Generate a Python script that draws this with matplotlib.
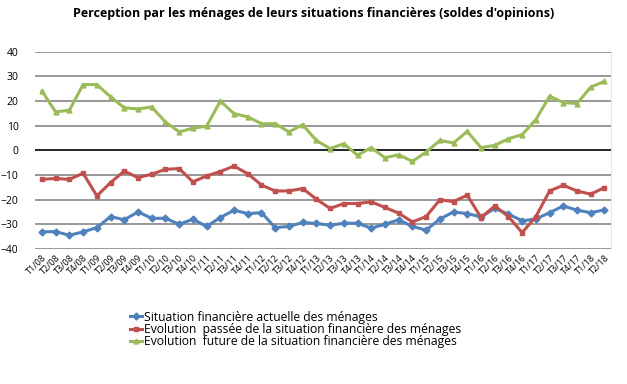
import matplotlib.pyplot as plt

# quarters T1/08 .. T2/18
quarters = ['T%d/%02d' % (q, y) for y in range(8, 19) for q in range(1, 5)][:42]

actuelle = [-33.1, -33.0, -34.5, -33.1, -31.4, -26.9, -28.2, -25.0, -27.6, -27.6,
            -30.0, -28.0, -30.9, -27.3, -24.3, -25.7, -25.3, -31.4, -30.9, -29.3,
            -29.7, -30.4, -29.6, -29.6, -31.6, -30.0, -28.2, -30.9, -32.4, -27.9,
            -25.0, -25.7, -27.0, -23.6, -25.9, -28.6, -27.9, -25.3, -22.6, -24.3,
            -25.3, -24.2]
passee = [-11.8, -11.4, -11.8, -9.3, -18.5, -13.1, -8.4, -11.1, -9.7, -7.7,
          -7.4, -12.8, -10.4, -8.6, -6.4, -9.5, -14.1, -16.5, -16.5, -15.5,
          -19.8, -23.6, -21.6, -21.6, -20.9, -23.2, -25.5, -29.1, -26.9, -20.1,
          -20.8, -18.2, -27.3, -22.6, -26.9, -33.4, -26.9, -16.5, -14.2, -16.5,
          -17.8, -15.1]
future = [24.0, 15.6, 16.3, 26.7, 26.7, 21.7, 17.3, 16.8, 17.6, 11.5,
          7.5, 9.0, 9.8, 20.0, 14.9, 13.6, 10.8, 10.8, 7.5, 10.4,
          4.0, 0.7, 2.7, -2.0, 1.1, -3.0, -1.8, -4.5, -0.7, 4.0,
          3.0, 7.7, 1.1, 2.0, 4.7, 6.4, 12.5, 22.0, 19.4, 19.0,
          25.7, 28.0]

plt.rcParams['font.family'] = ['Open Sans', 'DejaVu Sans']

fig = plt.figure(figsize=(6.27, 3.84), dpi=100)
ax = fig.add_axes([0.056, 0.352, 0.919, 0.513])

x = list(range(len(quarters)))
ax.plot(x, actuelle, color='#4f81bd', lw=2.2, marker='D', ms=3.5,
        label='Situation financière actuelle des ménages')
ax.plot(x, passee, color='#c0504d', lw=2.2, marker='s', ms=3.5,
        label='Evolution  passée de la situation financière des ménages')
ax.plot(x, future, color='#9bbb59', lw=2.2, marker='^', ms=3.5,
        label='Evolution  future de la situation financière des ménages')

ax.set_xlim(-0.5, len(quarters) - 0.5)
ax.set_ylim(-40, 40)
ax.set_yticks(range(-40, 41, 10))
for v in range(-40, 41, 10):
    ax.axhline(v, color='black' if v == 0 else '#868686', lw=1.2, zorder=0)

ax.set_xticks(x)
ax.set_xticklabels(quarters, rotation=45, ha='right', rotation_mode='anchor', fontsize=6.5)
ax.tick_params(axis='both', length=0)
ax.tick_params(axis='y', labelsize=7.5, pad=12)
ax.tick_params(axis='x', pad=3)
for s in ['top', 'left', 'bottom']:
    ax.spines[s].set_visible(False)
ax.spines['right'].set_color('#e6e6e6')

fig.suptitle("Perception par les ménages de leurs situations financières (soldes d'opinions)",
             fontsize=9, fontweight='bold', x=0.5, y=0.982)

fig.legend(loc='upper left', bbox_to_anchor=(0.198, 0.207), frameon=False,
           fontsize=8.7, handlelength=1.0, handletextpad=0.15, labelspacing=-0.05,
           borderpad=0)

fig.savefig('out.png', dpi=100)
